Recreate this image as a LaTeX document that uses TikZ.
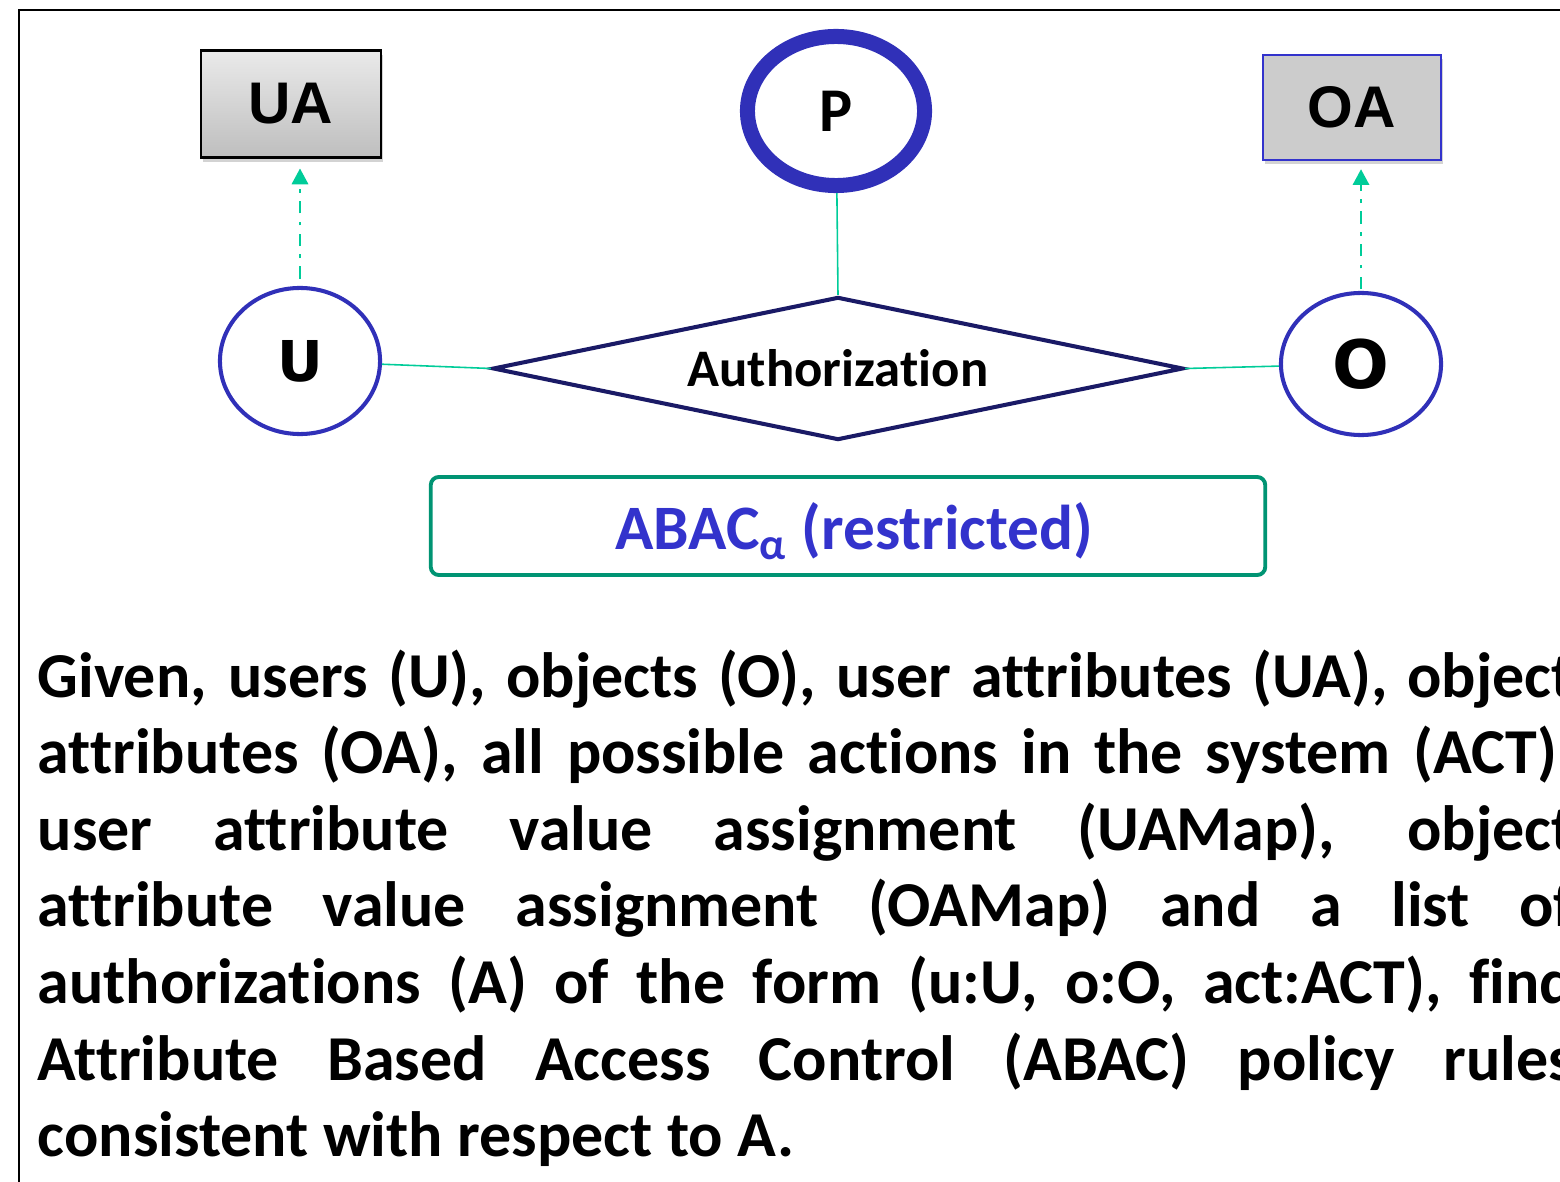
\documentclass[tikz,border=0pt]{standalone}
\usepackage{fontspec}
\setmainfont{Carlito}[Ligatures=NoCommon]
\newfontfamily\boxfont{Liberation Sans}
\newfontfamily\ringfont{DejaVu Sans}
\usetikzlibrary{shapes.geometric,arrows.meta,shadows}

\definecolor{ringblue}{RGB}{48,48,184}
\definecolor{oablue}{RGB}{51,51,204}
\definecolor{navy}{RGB}{26,26,102}
\definecolor{teal}{RGB}{0,204,153}
\definecolor{boxgreen}{RGB}{0,148,115}
\definecolor{uatop}{RGB}{234,234,234}
\definecolor{uabot}{RGB}{190,190,190}
\definecolor{oafill}{RGB}{204,204,204}

\tikzset{
  attrbox/.style={rectangle, line width=0.6pt, minimum width=1.8cm, minimum height=1.07cm,
    font=\boxfont\bfseries\fontsize{16.7pt}{20pt}\selectfont,
    drop shadow={shadow xshift=0.6pt, shadow yshift=-1.2pt, opacity=0.35}},
  entity/.style={ellipse, draw=ringblue, line width=1.15pt, minimum width=1.6cm, minimum height=1.46cm,
    inner sep=0pt, font=\ringfont\bfseries\fontsize{16pt}{19pt}\selectfont},
  link/.style={draw=teal, line width=0.45pt},
  attrlink/.style={draw=teal, line width=0.8pt, dash pattern=on 3.6pt off 2.3pt on 1.1pt off 2.3pt,
    -{Triangle[length=4.5pt,width=4.6pt]}}
}

\begin{document}
\begin{tikzpicture}[x=0.01cm,y=-0.01cm]
  \useasboundingbox (0,0) rectangle (1560,1182);
  \draw[line width=0.85pt] (19,10) rectangle (1700,1300);

  \draw
    (291,104) node[attrbox, draw=black, top color=uatop, bottom color=uabot] (UA){UA}
    (1352,107.5) node[attrbox, draw=oablue, fill=oafill, minimum width=1.78cm, minimum height=1.05cm] (OA){OA}
    (836,111) node[ellipse, draw=ringblue, line width=4.27pt, minimum width=1.77cm, minimum height=1.49cm,
      font=\bfseries\fontsize{17.7pt}{21pt}\selectfont] (P){P}
    (300,361) node[entity] (U){U}
    (1361,364) node[entity, minimum height=1.42cm, font=\ringfont\bfseries\fontsize{19pt}{22pt}\selectfont] (O){O}
    (838,368.5) node[diamond, draw=navy, line width=1.15pt, aspect=4.8, minimum width=6.9cm, minimum height=1.43cm,
      inner sep=0pt, font=\bfseries\fontsize{15pt}{18pt}\selectfont] (auth){Authorization}
    (848,526) node[rectangle, rounded corners=2.3pt, draw=boxgreen, line width=1.1pt, minimum width=8.34cm,
      minimum height=0.98cm, text height=13.6pt, text depth=0pt, text=oablue,
      font=\bfseries\fontsize{18pt}{21pt}\selectfont] (abac){\hspace*{3.4pt}ABAC\textsubscript{α} (restricted)};

  \begin{scope}[link]
    \draw (P) to (auth.north);
    \draw (U) to (auth.west);
    \draw (auth.east) to (O);
  \end{scope}
  \begin{scope}[attrlink]
    \draw[shorten <=2pt, shorten >=2.8pt] (U.north) to (U.north |- UA.south);
    \draw[shorten <=0.5pt, shorten >=2.3pt] (O.north) to (O.north |- OA.south);
  \end{scope}

  \node[anchor=base west, inner sep=0pt, text width=15.35cm, align=left,
    font=\bfseries\fontsize{18.2pt}{21.8pt}\selectfont] (task) at (37,697)
    {\spaceskip=0pt \xspaceskip=0pt
     \makebox[\hsize][s]{Given, users (U), objects (O), user attributes (UA), object}\\
     \makebox[\hsize][s]{attributes (OA), all possible actions in the system (ACT),}\\
     \makebox[\hsize][s]{user attribute value assignment (UAMap), object}\\
     \makebox[\hsize][s]{attribute value assignment (OAMap) and a list of}\\
     \makebox[\hsize][s]{authorizations (A) of the form (u:U, o:O, act:ACT), find}\\
     \makebox[\hsize][s]{Attribute Based Access Control (ABAC) policy rules}\\
     consistent with respect to A.};
\end{tikzpicture}
\end{document}
